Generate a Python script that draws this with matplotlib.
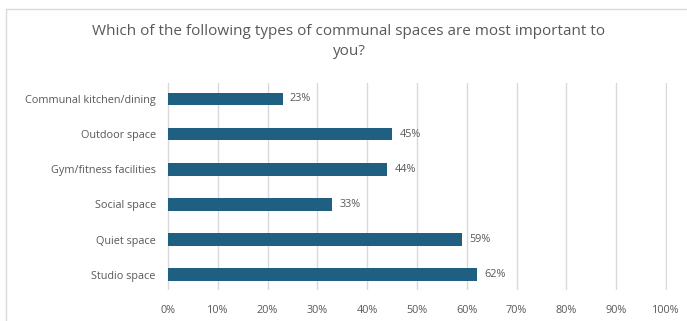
import matplotlib.pyplot as plt
from matplotlib.patches import Rectangle

# data, bottom to top
categories = ['Studio space', 'Quiet space', 'Social space',
              'Gym/fitness facilities', 'Outdoor space', 'Communal kitchen/dining']
values = [62, 59, 33, 44, 45, 23]
xticks = [0, 10, 20, 30, 40, 50, 60, 70, 80, 90, 100]

text_col = '#595959'
bar_col = '#1f5f82'
plt.rcParams['font.family'] = ['Open Sans', 'DejaVu Sans']

fig = plt.figure(figsize=(6.87, 3.21), dpi=100)
ax = fig.add_axes([0.243, 0.097, 0.728, 0.644])

# chart border
fig.patches.append(Rectangle((6 / 687, -0.1), 1.1, 1 - 9 / 321 + 0.1,
                             transform=fig.transFigure, fill=False,
                             edgecolor='#d9d9d9', linewidth=1))

y = range(len(categories))
ax.barh(y, values, height=0.36, color=bar_col, zorder=3)
for yi, v in zip(y, values):
    ax.text(v + 1.5, yi, f'{v}%', va='center', ha='left',
            fontsize=7.8, color=text_col)

ax.set_xlim(-0.2, 100.2)
ax.set_ylim(-0.43, 5.45)
ax.set_xticks(xticks)
ax.set_xticklabels([f'{t}%' for t in xticks], fontsize=7.8, color=text_col)
ax.set_yticks(list(y))
ax.set_yticklabels(categories, fontsize=7.8, color=text_col)
ax.tick_params(axis='x', length=0, pad=11)
ax.tick_params(axis='y', length=0, pad=8)
ax.grid(axis='x', color='#d9d9d9', linewidth=1, zorder=0)
ax.set_axisbelow(True)
for s in ax.spines.values():
    s.set_visible(False)

fig.text(0.508, 0.87, 'Which of the following types of communal spaces are most important to\nyou?',
         ha='center', va='center', fontsize=11, color=text_col, linespacing=1.5)

fig.savefig('out.png', dpi=100)
